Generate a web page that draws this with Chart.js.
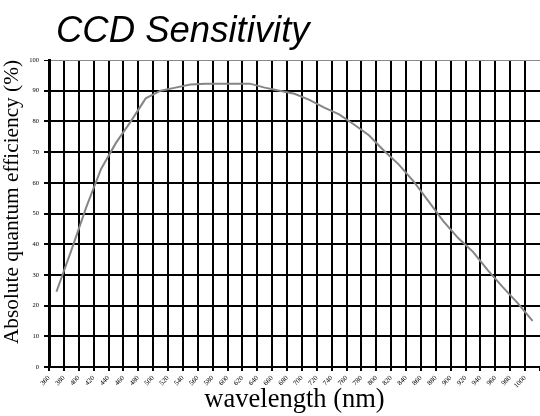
<!DOCTYPE html>
<html>
<head>
<meta charset="utf-8">
<script src="https://cdn.jsdelivr.net/npm/chart.js@4.4.1/dist/chart.umd.min.js"></script>
<style>
  html, body { margin: 0; padding: 0; background: #fff; }
  #wrap { width: 540px; height: 416px; position: relative; }
</style>
</head>
<body>
<div id="wrap"><canvas id="ccd"></canvas></div>
<script>
// wavelength of each measured point (nm)
var wavelengths = [370, 390, 410, 430, 450, 470, 490, 510, 530, 550, 570, 590, 610, 630, 650, 670, 690,
                   710, 730, 750, 770, 790, 810, 830, 850, 870, 890, 910, 930, 950, 970, 990, 1010];
// absolute quantum efficiency (%)
var efficiency = [24.5, 38, 52, 64.5, 73, 80, 87.5, 90, 91, 92, 92.3, 92.3, 92.3, 92.3, 91, 90, 89,
                  87, 84.5, 82.3, 79, 75.5, 70.5, 66, 60.5, 54, 47.5, 42, 37.5, 31.5, 26, 20.8, 15];
var xTickLabels = ['360','380','400','420','440','460','480','500','520','540','560','580','600','620','640','660','680',
                   '700','720','740','760','780','800','820','840','860','880','900','920','940','960','980','1000'];
var yTickLabels = ['0','10','20','30','40','50','60','70','80','90','100'];

var titleText = 'CCD Sensitivity';

var bgAndTitle = {
  id: 'bgAndTitle',
  beforeDraw: function(chart){
    var c = chart.ctx;
    c.save();
    c.fillStyle = '#fff';
    c.fillRect(0, 0, chart.width, chart.height);
    c.restore();
  },
  afterDraw: function(chart){
    var c = chart.ctx;
    c.save();
    c.fillStyle = '#000';
    c.font = 'italic 36.5px "Liberation Sans", Arial, sans-serif';
    c.textBaseline = 'alphabetic';
    c.textAlign = 'left';
    c.fillText(titleText, 56, 42);
    c.restore();
  }
};

var ctx = document.getElementById('ccd').getContext('2d');
var chart = new Chart(ctx, {
  type: 'line',
  data: {
    datasets: [{
      data: wavelengths.map(function(w, i){ return { x: w, y: efficiency[i] }; }),
      borderColor: '#858585',
      borderWidth: 2,
      pointRadius: 0,
      tension: 0,
      fill: false
    }]
  },
  options: {
    responsive: true,
    maintainAspectRatio: false,
    animation: false,
    layout: { padding: { top: 60, right: 0, left: 0, bottom: 0 } },
    plugins: {
      legend: { display: false },
      title: { display: false },
      tooltip: { enabled: false }
    },
    scales: {
      x: {
        type: 'linear',
        min: 360,
        max: 1020,
        afterFit: function(s){ s.height = 49; s.paddingRight = 0; s.paddingLeft = 0; },
        ticks: {
          stepSize: 20,
          autoSkip: false,
          minRotation: 45,
          maxRotation: 45,
          padding: 3,
          color: '#000',
          font: { family: '"Liberation Serif", "Times New Roman", serif', size: 7 },
          callback: function(v){
            var idx = Math.round((v - 360) / 20);
            return xTickLabels[idx] || '';
          }
        },
        grid: {
          color: function(c){ return c.tick && c.tick.value > 1000 ? 'rgba(0,0,0,0)' : '#000'; },
          lineWidth: 2,
          tickLength: 4,
          tickColor: '#000'
        },
        border: { color: '#000', width: 2 },
        title: {
          display: true,
          text: 'wavelength (nm)',
          color: '#000',
          font: { family: '"Liberation Serif", "Times New Roman", serif', size: 26.5 },
          padding: { top: 0, bottom: 0 }
        }
      },
      y: {
        min: 0,
        max: 100,
        afterFit: function(s){ s.width = 49; s.paddingTop = 0; s.paddingBottom = 0; },
        ticks: {
          stepSize: 10,
          padding: 5,
          color: '#000',
          font: { family: '"Liberation Serif", "Times New Roman", serif', size: 6.5 },
          callback: function(v){ return yTickLabels[Math.round(v / 10)]; }
        },
        grid: {
          color: function(c){ return c.tick && c.tick.value === 100 ? '#8a8a8a' : '#000'; },
          lineWidth: function(c){ return c.tick && c.tick.value === 100 ? 1 : 2; },
          tickLength: 5,
          tickColor: '#000'
        },
        border: { color: '#000', width: 3 },
        title: {
          display: true,
          align: 'end',
          text: 'Absolute quantum efficiency (%)',
          color: '#000',
          font: { family: '"Liberation Serif", "Times New Roman", serif', size: 21.3 },
          padding: { top: 0, bottom: 2 }
        }
      }
    }
  },
  plugins: [bgAndTitle]
});
</script>
</body>
</html>
